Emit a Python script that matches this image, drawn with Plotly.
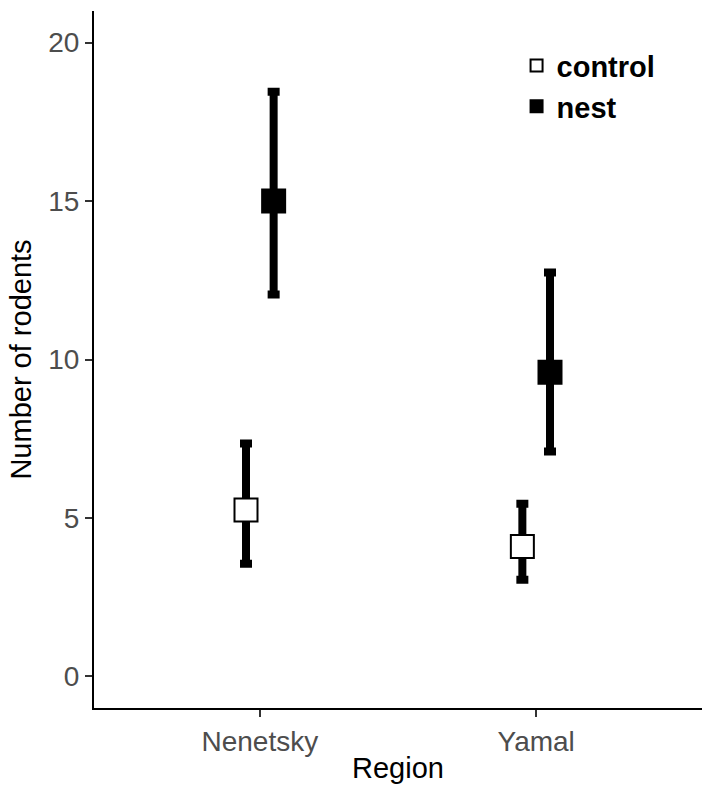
import plotly.graph_objects as go

regions = ["Nenetsky", "Yamal"]
groups = ["control", "nest"]
means = {"control": [5.25, 4.1], "nest": [15.0, 9.6]}
upper = {"control": [7.35, 5.45], "nest": [18.45, 12.75]}
lower = {"control": [3.55, 3.05], "nest": [12.05, 7.1]}
fills = {"control": "white", "nest": "black"}
dodge = {"control": -0.05, "nest": 0.05}
y_ticks = [0, 5, 10, 15, 20]

fig = go.Figure()
for g in groups:
    xs = [i + dodge[g] for i in range(len(regions))]
    fig.add_trace(go.Scatter(
        x=xs, y=means[g], mode="markers", name=g,
        marker=dict(symbol="square", size=23, color=fills[g],
                    line=dict(color="black", width=2)),
        error_y=dict(type="data", symmetric=False,
                     array=[u - m for u, m in zip(upper[g], means[g])],
                     arrayminus=[m - l for m, l in zip(means[g], lower[g])],
                     color="black", thickness=8, width=6),
    ))

font = "Liberation Sans, Arial, sans-serif"
fig.update_layout(
    width=702, height=785,
    margin=dict(l=94, r=0, t=11, b=77),
    plot_bgcolor="white", paper_bgcolor="white",
    font=dict(family=font),
    showlegend=True,
    legend=dict(x=0.695, y=0.958, xanchor="left", yanchor="top",
                font=dict(size=29, color="black", family=font, weight="bold"),
                bgcolor="rgba(0,0,0,0)", tracegroupgap=0, itemsizing="constant"),
    xaxis=dict(range=[-0.6, 1.6], tickvals=list(range(len(regions))), ticktext=regions,
               showgrid=False, zeroline=False, showline=True, linecolor="black", linewidth=2,
               ticks="outside", ticklen=7, tickwidth=2, tickcolor="#333333",
               tickfont=dict(size=28, color="#4d4d4d"),
               title=dict(text="Region", font=dict(size=29, color="black"), standoff=2)),
    yaxis=dict(range=[-1, 21], tickvals=y_ticks,
               showgrid=False, zeroline=False, showline=True, linecolor="black", linewidth=2,
               ticks="outside", ticklen=7, tickwidth=2, tickcolor="#333333",
               tickfont=dict(size=28, color="#4d4d4d"),
               title=dict(text="Number of rodents", font=dict(size=29, color="black"), standoff=8)),
)
fig.write_html("out.html", config={"displayModeBar": False},
               post_script="document.body.style.margin='0';")
